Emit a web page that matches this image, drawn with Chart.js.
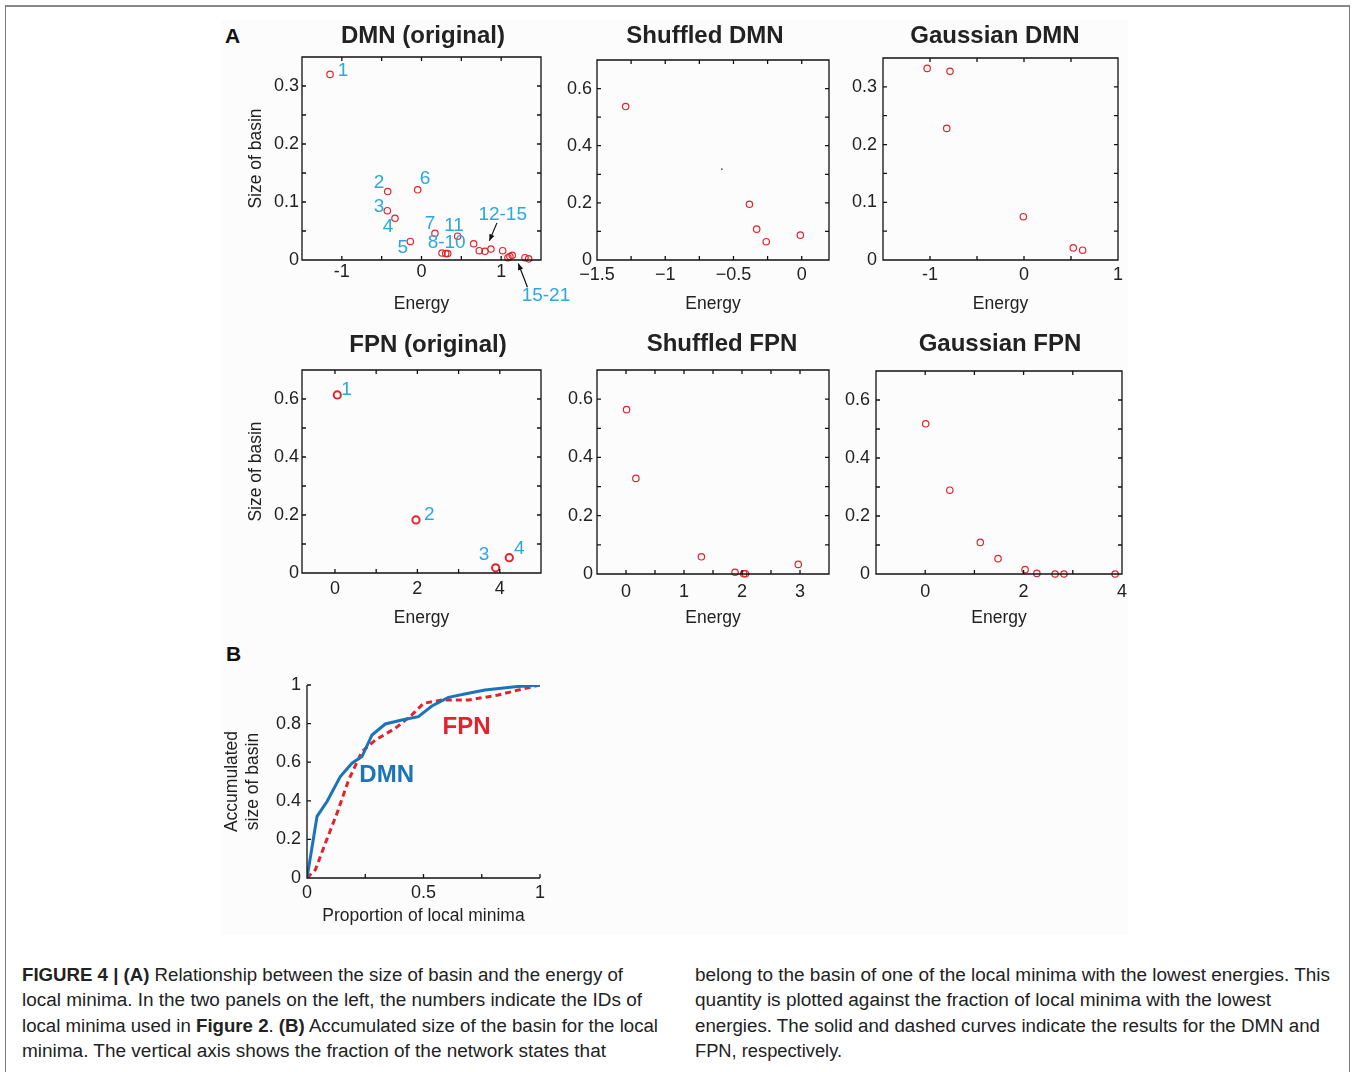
<!DOCTYPE html>
<html lang="en">
<head>
<meta charset="utf-8">
<title>Figure 4 - basin size vs energy</title>
<script src="https://cdn.jsdelivr.net/npm/chart.js"></script>
<style>
  body { margin: 0; background: #fff; font-family: "Liberation Sans", Arial, sans-serif; }
  #page { position: relative; width: 1354px; height: 1072px; overflow: hidden; }
  .frame { position: absolute; left: 5px; top: 5px; width: 1343px; height: 1100px; border: 1px solid #777; border-top: 2px solid #888; }
  .shade { position: absolute; left: 221px; top: 20px; width: 907px; height: 915px; background: #fcfcfc; }
  .panel { position: absolute; }
  .tag { position: absolute; font-weight: bold; font-size: 21px; color: #111; line-height: 24px; }
  .cap { position: absolute; font-size: 18px; line-height: 20px; color: #222; white-space: nowrap; transform-origin: 0 50%; }
</style>
</head>
<body>
<div id="page">
  <div class="shade"></div>
  <div class="frame"></div>
  <div class="tag" style="left:225px; top:24px;">A</div>
  <div class="tag" style="left:226px; top:642px;">B</div>

  <div class="cap" data-w="601" style="left:22px; top:965px;"><b>FIGURE 4 | (A)</b> Relationship between the size of basin and the energy of</div>
  <div class="cap" data-w="620" style="left:22px; top:990px;">local minima. In the two panels on the left, the numbers indicate the IDs of</div>
  <div class="cap" data-w="636" style="left:22px; top:1016px;">local minima used in <b>Figure 2</b>. <b>(B)</b> Accumulated size of the basin for the local</div>
  <div class="cap" data-w="584" style="left:22px; top:1041px;">minima. The vertical axis shows the fraction of the network states that</div>
  <div class="cap" data-w="635" style="left:695px; top:965px;">belong to the basin of one of the local minima with the lowest energies. This</div>
  <div class="cap" data-w="576" style="left:695px; top:990px;">quantity is plotted against the fraction of local minima with the lowest</div>
  <div class="cap" data-w="625" style="left:695px; top:1016px;">energies. The solid and dashed curves indicate the results for the DMN and</div>
  <div class="cap" data-w="147" style="left:695px; top:1041px;">FPN, respectively.</div>
</div>

<script>
// ---- data ----
// DMN (original), local minima 1..21
const dmnEnergy = [-1.148, -0.424, -0.429, -0.333, -0.14, -0.048, 0.169, 0.257, 0.304, 0.329, 0.454,
                   0.655, 0.725, 0.797, 0.872, 1.019, 1.085, 1.11, 1.139, 1.299, 1.345];
const dmnBasin  = [0.320, 0.118, 0.085, 0.072, 0.032, 0.121, 0.046, 0.012, 0.011, 0.011, 0.041,
                   0.028, 0.016, 0.015, 0.019, 0.016, 0.004, 0.006, 0.008, 0.004, 0.002];
const shufDmnEnergy = [-1.29, -0.383, -0.33, -0.26, -0.01];
const shufDmnBasin  = [0.537, 0.195, 0.108, 0.064, 0.087];
const shufDmnSpeck  = [[-0.585, 0.318]];
const gaussDmnEnergy = [-1.03, -0.787, -0.822, -0.007, 0.524, 0.624];
const gaussDmnBasin  = [0.332, 0.327, 0.228, 0.075, 0.021, 0.017];

// FPN (original), local minima 1..4
const fpnEnergy = [0.056, 1.966, 3.90, 4.23];
const fpnBasin  = [0.614, 0.183, 0.018, 0.053];
const shufFpnEnergy = [0.01, 0.17, 1.30, 1.88, 2.03, 2.06, 2.97];
const shufFpnBasin  = [0.564, 0.328, 0.059, 0.006, 0.001, 0.001, 0.033];
const gaussFpnEnergy = [0.01, 0.50, 1.12, 1.48, 2.03, 2.27, 2.64, 2.82, 3.86];
const gaussFpnBasin  = [0.518, 0.289, 0.109, 0.053, 0.015, 0.002, 0.0, 0.0, 0.0];

// panel B, accumulated basin size
const dmnFrac  = [0, 0.043, 0.086, 0.143, 0.193, 0.236, 0.279, 0.336, 0.407, 0.478, 0.536, 0.607, 0.693, 0.764, 0.893, 1];
const dmnAccum = [0, 0.319, 0.396, 0.526, 0.595, 0.629, 0.741, 0.798, 0.819, 0.836, 0.891, 0.936, 0.957, 0.974, 0.991, 1];
const fpnFrac  = [0, 0.036, 0.079, 0.129, 0.179, 0.236, 0.293, 0.379, 0.45, 0.5, 0.579, 0.693, 0.821, 0.921, 1];
const fpnAccum = [0, 0.043, 0.181, 0.336, 0.509, 0.655, 0.715, 0.776, 0.845, 0.905, 0.922, 0.922, 0.948, 0.978, 1];

// tick values and labels
const basin035Ticks  = [0, 0.05, 0.1, 0.15, 0.2, 0.25, 0.3, 0.35];
const basin035Labels = ['0', '', '0.1', '', '0.2', '', '0.3', ''];
const basin07Ticks   = [0, 0.1, 0.2, 0.3, 0.4, 0.5, 0.6, 0.7];
const basin07Labels  = ['0', '', '0.2', '', '0.4', '', '0.6', ''];
const dmnXTicks   = [-1.5, -1, -0.5, 0, 0.5, 1, 1.5];
const dmnXLabels  = ['', '-1', '', '0', '', '1', ''];
const shufDmnXTicks  = [-1.5, -1.25, -1, -0.75, -0.5, -0.25, 0];
const shufDmnXLabels = ['\u22121.5', '', '\u22121', '', '\u22120.5', '', '0'];
const gaussDmnXTicks  = [-1.5, -1, -0.5, 0, 0.5, 1];
const gaussDmnXLabels = ['', '-1', '', '0', '', '1'];
const fpnXTicks  = [0, 1, 2, 3, 4, 5];
const fpnXLabels = ['0', '', '2', '', '4', ''];
const shufFpnXTicks  = [-0.5, 0, 0.5, 1, 1.5, 2, 2.5, 3, 3.5];
const shufFpnXLabels = ['', '0', '', '1', '', '2', '', '3', ''];
const gaussFpnXTicks  = [-1, 0, 1, 2, 3, 4];
const gaussFpnXLabels = ['', '0', '', '2', '', '4'];
const propTicks  = [0, 0.25, 0.5, 0.75, 1];
const propLabels = ['0', '', '0.5', '', '1'];
const accumTicks  = [0, 0.2, 0.4, 0.6, 0.8, 1];
const accumLabels = ['0', '0.2', '0.4', '0.6', '0.8', '1'];

const FONT = '"Liberation Sans", Arial, Helvetica, sans-serif';
const RED = '#e3232b';
const CYAN = '#2aa8e0';
const BLUE = '#1b74bb';
const TICK_SIZE = 18;
const AXIS_SIZE = 17.5;
Chart.defaults.font.family = FONT;

// matlab-like axes: box + inward ticks
const matlabAxes = {
    id: 'matlabAxes',
    afterDatasetsDraw(chart, args, opts) {
        const { ctx, chartArea: a, scales: { x, y } } = chart;
        const t = 4;
        ctx.save();
        ctx.strokeStyle = '#111';
        ctx.lineWidth = 1.3;
        ctx.beginPath();
        if (opts.frame) {
            ctx.rect(a.left, a.top, a.right - a.left, a.bottom - a.top);
        } else {
            ctx.moveTo(a.left, a.top);
            ctx.lineTo(a.left, a.bottom);
            ctx.lineTo(a.right, a.bottom);
        }
        x.ticks.forEach(tk => {
            const px = x.getPixelForValue(tk.value);
            ctx.moveTo(px, a.bottom); ctx.lineTo(px, a.bottom - t);
            if (opts.frame) { ctx.moveTo(px, a.top); ctx.lineTo(px, a.top + t); }
        });
        y.ticks.forEach(tk => {
            const py = y.getPixelForValue(tk.value);
            ctx.moveTo(a.left, py); ctx.lineTo(a.left + t, py);
            if (opts.frame) { ctx.moveTo(a.right, py); ctx.lineTo(a.right - t, py); }
        });
        ctx.stroke();
        ctx.restore();
    }
};

// panel titles, ID numbers and arrows
const notes = {
    id: 'notes',
    afterDraw(chart, args, o) {
        const { ctx, scales: { x, y } } = chart;
        ctx.save();
        ctx.textAlign = 'center';
        ctx.textBaseline = 'middle';
        if (o.title) {
            ctx.font = 'bold 24px ' + FONT;
            ctx.fillStyle = '#222';
            ctx.fillText(o.title.text, o.title.x, o.title.y);
        }
        (o.items || []).forEach(it => {
            ctx.font = it.font;
            ctx.fillStyle = it.color;
            ctx.fillText(it.text, x.getPixelForValue(it.at[0]), y.getPixelForValue(it.at[1]));
        });
        (o.arrows || []).forEach(ar => {
            const x0 = x.getPixelForValue(ar.from[0]), y0 = y.getPixelForValue(ar.from[1]);
            const x1 = x.getPixelForValue(ar.to[0]), y1 = y.getPixelForValue(ar.to[1]);
            const ang = Math.atan2(y1 - y0, x1 - x0);
            ctx.strokeStyle = '#111';
            ctx.fillStyle = '#111';
            ctx.lineWidth = 1.2;
            ctx.beginPath();
            ctx.moveTo(x0, y0);
            ctx.lineTo(x1, y1);
            ctx.stroke();
            ctx.beginPath();
            ctx.moveTo(x1, y1);
            ctx.lineTo(x1 - 7 * Math.cos(ang - 0.4), y1 - 7 * Math.sin(ang - 0.4));
            ctx.lineTo(x1 - 7 * Math.cos(ang + 0.4), y1 - 7 * Math.sin(ang + 0.4));
            ctx.closePath();
            ctx.fill();
        });
        ctx.restore();
    }
};

function circles(xs, ys, extra) {
    return Object.assign({
        data: xs.map((v, i) => ({ x: v, y: ys[i] })),
        pointStyle: 'circle',
        pointRadius: 3.2,
        pointBorderWidth: 1.2,
        pointBorderColor: RED,
        pointBackgroundColor: 'rgba(0,0,0,0)',
        showLine: false,
        clip: false
    }, extra || {});
}

const page = document.getElementById('page');

function panel(spec) {
    const b = spec.box;
    const padL = spec.padL || 80, padT = 50, padR = 30, padB = 62;
    const cx = b.l - padL, cy = b.t - padT;
    const cw = b.r - cx + padR, ch = b.b - cy + padB;
    const lh = AXIS_SIZE * 1.2;

    const wrap = document.createElement('div');
    wrap.className = 'panel';
    wrap.style.left = cx + 'px';
    wrap.style.top = cy + 'px';
    const cv = document.createElement('canvas');
    cv.width = cw; cv.height = ch;
    cv.style.width = cw + 'px'; cv.style.height = ch + 'px';
    wrap.appendChild(cv);
    page.appendChild(wrap);

    const axisFont = { size: AXIS_SIZE, family: FONT };
    const tickFont = { size: TICK_SIZE, family: FONT };

    return new Chart(cv, {
        type: spec.type || 'scatter',
        data: { datasets: spec.datasets },
        options: {
            responsive: false,
            animation: false,
            devicePixelRatio: 1,
            layout: { padding: { left: 0, top: padT, right: padR, bottom: 0 } },
            plugins: {
                legend: { display: false },
                tooltip: { enabled: false },
                matlabAxes: { frame: spec.frame !== false },
                notes: {
                    title: spec.title ? { text: spec.title.text, x: spec.title.x - cx, y: spec.title.y - cy } : null,
                    items: spec.items || [],
                    arrows: spec.arrows || []
                }
            },
            scales: {
                x: {
                    type: 'linear', bounds: 'data',
                    min: spec.x.min, max: spec.x.max,
                    grid: { display: false, drawTicks: false },
                    border: { display: false },
                    ticks: {
                        autoSkip: false, maxRotation: 0, padding: spec.x.pad,
                        color: '#222', font: tickFont,
                        callback: (v, i) => spec.x.labels[i]
                    },
                    afterBuildTicks: s => { s.ticks = spec.x.ticks.map(v => ({ value: v })); },
                    afterFit: s => { s.height = padB; },
                    title: {
                        display: true, text: spec.x.title, color: '#222', font: axisFont,
                        padding: { top: 0, bottom: b.b + padB - lh / 2 - spec.x.titleY }
                    }
                },
                y: {
                    type: 'linear', bounds: 'data',
                    min: spec.y.min, max: spec.y.max,
                    grid: { display: false, drawTicks: false },
                    border: { display: false },
                    ticks: {
                        autoSkip: false, padding: spec.y.pad,
                        color: '#222', font: tickFont,
                        callback: (v, i) => spec.y.labels[i]
                    },
                    afterBuildTicks: s => { s.ticks = spec.y.ticks.map(v => ({ value: v })); },
                    afterFit: s => { s.width = padL; },
                    title: {
                        display: !!spec.y.title, text: spec.y.title || '', color: '#222', font: axisFont,
                        padding: { top: spec.y.titleX ? spec.y.titleX - cx - lh / 2 : 0, bottom: 0 }
                    }
                }
            }
        },
        plugins: [matlabAxes, notes]
    });
}

const numFont = '19px ' + FONT;

// DMN (original)
panel({
    box: { l: 302, t: 57, r: 541, b: 260 },
    title: { text: 'DMN (original)', x: 423, y: 36 },
    datasets: [circles(dmnEnergy, dmnBasin)],
    x: { min: -1.5, max: 1.5, ticks: dmnXTicks, labels: dmnXLabels, pad: 1, title: 'Energy', titleY: 304 },
    y: { min: 0, max: 0.35, ticks: basin035Ticks, labels: basin035Labels, pad: 3, title: 'Size of basin', titleX: 256 },
    items: [
        { text: '1', at: [-0.985, 0.326], color: CYAN, font: numFont },
        { text: '2', at: [-0.533, 0.133], color: CYAN, font: numFont },
        { text: '3', at: [-0.533, 0.091], color: CYAN, font: numFont },
        { text: '4', at: [-0.42, 0.057], color: CYAN, font: numFont },
        { text: '5', at: [-0.236, 0.021], color: CYAN, font: numFont },
        { text: '6', at: [0.044, 0.140], color: CYAN, font: numFont },
        { text: '7', at: [0.107, 0.062], color: CYAN, font: numFont },
        { text: '11', at: [0.408, 0.059], color: CYAN, font: numFont },
        { text: '8-10', at: [0.316, 0.030], color: CYAN, font: numFont },
        { text: '12-15', at: [1.019, 0.078], color: CYAN, font: numFont },
        { text: '15-21', at: [1.562, -0.062], color: CYAN, font: numFont }
    ],
    arrows: [
        { from: [0.947, 0.064], to: [0.852, 0.033] },
        { from: [1.33, -0.047], to: [1.215, -0.006] }
    ]
});

// Shuffled DMN
panel({
    box: { l: 597, t: 60, r: 829, b: 260 },
    title: { text: 'Shuffled DMN', x: 705, y: 36 },
    datasets: [
        circles(shufDmnEnergy, shufDmnBasin),
        circles(shufDmnSpeck.map(p => p[0]), shufDmnSpeck.map(p => p[1]),
                { pointRadius: 0.8, pointBorderWidth: 0, pointBackgroundColor: '#333' })
    ],
    x: { min: -1.5, max: 0.2, ticks: shufDmnXTicks, labels: shufDmnXLabels, pad: 4, title: 'Energy', titleY: 304 },
    y: { min: 0, max: 0.7, ticks: basin07Ticks, labels: basin07Labels, pad: 5 }
});

// Gaussian DMN
panel({
    box: { l: 883, t: 58, r: 1118, b: 260 },
    title: { text: 'Gaussian DMN', x: 995, y: 36 },
    datasets: [circles(gaussDmnEnergy, gaussDmnBasin)],
    x: { min: -1.5, max: 1, ticks: gaussDmnXTicks, labels: gaussDmnXLabels, pad: 4, title: 'Energy', titleY: 304 },
    y: { min: 0, max: 0.35, ticks: basin035Ticks, labels: basin035Labels, pad: 6 }
});

// FPN (original)
panel({
    box: { l: 302, t: 370, r: 541, b: 573 },
    title: { text: 'FPN (original)', x: 428, y: 345 },
    datasets: [circles(fpnEnergy, fpnBasin, { pointRadius: 3.6, pointBorderWidth: 2 })],
    x: { min: -0.8, max: 5, ticks: fpnXTicks, labels: fpnXLabels, pad: 5, title: 'Energy', titleY: 618 },
    y: { min: 0, max: 0.7, ticks: basin07Ticks, labels: basin07Labels, pad: 3, title: 'Size of basin', titleX: 256 },
    items: [
        { text: '1', at: [0.28, 0.631], color: CYAN, font: numFont },
        { text: '2', at: [2.29, 0.202], color: CYAN, font: numFont },
        { text: '3', at: [3.62, 0.062], color: CYAN, font: numFont },
        { text: '4', at: [4.47, 0.085], color: CYAN, font: numFont }
    ]
});

// Shuffled FPN
panel({
    box: { l: 597, t: 370, r: 829, b: 574 },
    title: { text: 'Shuffled FPN', x: 722, y: 344 },
    datasets: [circles(shufFpnEnergy, shufFpnBasin)],
    x: { min: -0.5, max: 3.5, ticks: shufFpnXTicks, labels: shufFpnXLabels, pad: 7, title: 'Energy', titleY: 618 },
    y: { min: 0, max: 0.7, ticks: basin07Ticks, labels: basin07Labels, pad: 4 }
});

// Gaussian FPN
panel({
    box: { l: 876, t: 371, r: 1122, b: 574 },
    title: { text: 'Gaussian FPN', x: 1000, y: 344 },
    datasets: [circles(gaussFpnEnergy, gaussFpnBasin)],
    x: { min: -1, max: 4, ticks: gaussFpnXTicks, labels: gaussFpnXLabels, pad: 7, title: 'Energy', titleY: 618 },
    y: { min: 0, max: 0.7, ticks: basin07Ticks, labels: basin07Labels, pad: 6 }
});

// B: accumulated size of basin
panel({
    type: 'line',
    frame: false,
    padL: 95,
    box: { l: 307, t: 685, r: 540, b: 878 },
    datasets: [
        { label: 'DMN', data: dmnFrac.map((v, i) => ({ x: v, y: dmnAccum[i] })),
          borderColor: BLUE, borderWidth: 3, pointRadius: 0, tension: 0, fill: false },
        { label: 'FPN', data: fpnFrac.map((v, i) => ({ x: v, y: fpnAccum[i] })),
          borderColor: RED, borderWidth: 3, borderDash: [6, 4], pointRadius: 0, tension: 0, fill: false }
    ],
    x: { min: 0, max: 1, ticks: propTicks, labels: propLabels, pad: 4, title: 'Proportion of local minima', titleY: 916 },
    y: { min: 0, max: 1, ticks: accumTicks, labels: accumLabels, pad: 6, title: ['Accumulated', 'size of basin'], titleX: 232 },
    items: [
        { text: 'DMN', at: [0.342, 0.534], color: BLUE, font: 'bold 24px ' + FONT },
        { text: 'FPN', at: [0.685, 0.781], color: RED, font: 'bold 24px ' + FONT }
    ]
});

// squeeze caption lines to the column width of the original
document.querySelectorAll('.cap').forEach(el => {
    const w = el.getBoundingClientRect().width;
    el.style.transform = 'scaleX(' + (parseFloat(el.dataset.w) / w) + ')';
});
</script>
</body>
</html>
